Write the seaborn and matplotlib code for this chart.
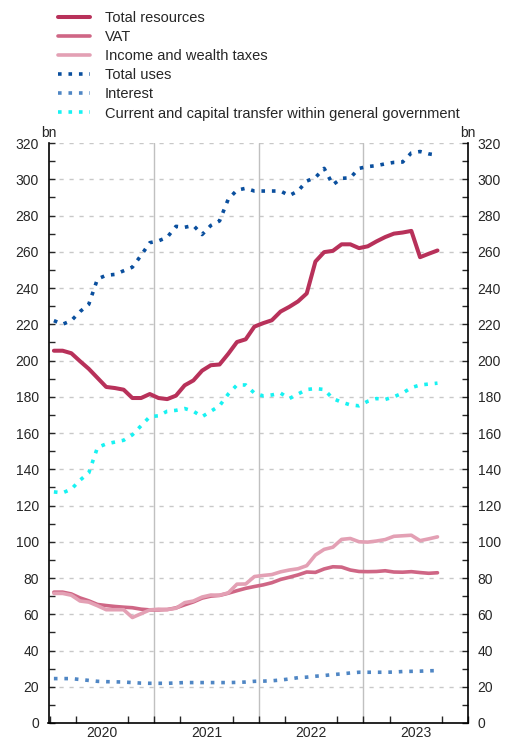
import numpy as np
import pandas as pd
import matplotlib
matplotlib.use("Agg")
import matplotlib.pyplot as plt
import seaborn as sns

# monthly data, Jan 2020 - Sep 2023 (bn)
months = pd.date_range("2020-01-01", periods=45, freq="MS")

total_resources = [205.4, 205.4, 204.0, 199.6, 195.4, 190.4, 185.4, 184.8, 183.9, 179.3,
                   179.3, 181.5, 179.3, 178.7, 180.6, 186.3, 189.0, 194.4, 197.4, 197.8,
                   203.7, 210.2, 211.7, 218.7, 220.6, 222.2, 227.0, 229.6, 232.6, 237.0,
                   254.6, 259.8, 260.5, 264.1, 264.1, 262.0, 263.0, 265.7, 268.1, 270.0,
                   270.6, 271.5, 257.0, 258.9, 260.7]
vat = [72.2, 72.2, 71.2, 69.0, 67.4, 65.4, 64.8, 64.3, 63.9, 63.6,
       62.8, 62.4, 62.4, 62.6, 63.5, 65.2, 66.8, 68.9, 70.0, 70.4,
       71.6, 73.0, 74.3, 75.3, 76.2, 77.4, 79.2, 80.4, 81.7, 83.3,
       83.1, 85.0, 86.2, 86.0, 84.4, 83.6, 83.5, 83.6, 84.0, 83.3,
       83.2, 83.5, 83.0, 82.6, 82.9]
income_wealth = [71.5, 71.5, 70.5, 67.3, 66.7, 64.7, 62.5, 62.5, 62.5, 58.2,
                 60.3, 62.4, 62.8, 62.6, 63.3, 66.4, 67.3, 69.5, 70.6, 70.5,
                 71.8, 76.6, 76.7, 80.8, 81.4, 81.9, 83.4, 84.4, 85.1, 86.8,
                 92.7, 95.8, 97.0, 101.3, 101.8, 100.0, 99.8, 100.4, 101.2, 103.0,
                 103.3, 103.6, 100.6, 101.6, 102.7]
total_uses = [222.0, 220.0, 222.0, 227.0, 231.0, 245.0, 247.0, 247.5, 249.5, 251.5,
              258.0, 265.0, 266.0, 268.0, 274.0, 273.5, 274.5, 269.5, 274.5, 277.0,
              289.0, 294.0, 295.0, 293.5, 293.5, 293.5, 293.5, 291.0, 293.5, 299.0,
              301.0, 306.0, 297.0, 300.5, 300.8, 306.0, 307.0, 307.5, 308.5, 309.3,
              309.5, 314.5, 315.3, 314.0, 313.3]
interest = [24.5, 24.5, 24.5, 24.0, 23.5, 23.0, 22.8, 22.7, 22.6, 22.3,
            22.0, 21.9, 21.9, 21.9, 22.1, 22.3, 22.3, 22.3, 22.3, 22.3,
            22.3, 22.4, 22.6, 23.0, 23.1, 23.3, 23.7, 24.3, 25.0, 25.3,
            25.8, 26.2, 26.7, 27.1, 27.6, 28.0, 28.0, 28.0, 28.0, 28.1,
            28.4, 28.5, 28.6, 28.8, 28.9]
transfers = [127.5, 127.0, 129.0, 134.0, 138.0, 152.0, 154.0, 155.0, 156.0, 159.0,
             164.0, 169.0, 169.5, 172.0, 172.5, 173.5, 172.0, 169.0, 172.0, 175.0,
             181.5, 186.5, 186.5, 182.0, 180.5, 181.0, 182.0, 179.0, 181.5, 184.0,
             184.5, 184.0, 179.0, 177.0, 175.5, 175.0, 177.5, 179.0, 178.5, 180.0,
             182.0, 185.0, 186.5, 187.0, 187.5]

years = [2020, 2021, 2022, 2023]

# x as decimal year, mid-month
x = months.year + (months.month - 0.5) / 12

sns.set_style("white")
plt.rcParams["font.family"] = ["Liberation Sans", "DejaVu Sans"]
plt.rcParams["font.size"] = 10

fig = plt.figure(figsize=(5.07, 7.42), dpi=100)
ax = fig.add_axes([48.5 / 507, 19 / 742, (468 - 48.5) / 507, (723 - 143) / 742])

dots = (0, (1, 1.9))
series = [
    ("Total resources", total_resources, "#b8315a", "-", 2.9),
    ("VAT", vat, "#cf6685", "-", 2.6),
    ("Income and wealth taxes", income_wealth, "#e3a0b4", "-", 2.6),
    ("Total uses", total_uses, "#0a4f9e", dots, 2.6),
    ("Interest", interest, "#4f86c4", dots, 2.6),
    ("Current and capital transfer within general government", transfers, "#17f2f2", dots, 2.6),
]
for name, vals, col, ls, lw in series:
    sns.lineplot(x=x, y=vals, ax=ax, color=col, linestyle=ls, linewidth=lw, label=name)

ax.set_xlim(years[0] - 0.01, years[-1] + 1)
ax.set_ylim(0, 320)

# grid
for yv in range(20, 321, 20):
    ax.axhline(yv, color="#c8c8c8", lw=1, linestyle=(0, (3, 4.2)), zorder=0)
for yr in years[1:]:
    ax.axvline(yr, color="#c0c0c0", lw=1, zorder=0)

# y axis both sides
ax.set_yticks(range(0, 321, 20))
ax.set_yticks(range(0, 321, 10), minor=True)
ax.tick_params(axis="y", which="both", direction="in", length=4, width=1,
               left=True, right=True, labelleft=True, labelright=True, pad=7, labelsize=10)

# x axis: labels mid-year, ticks at quarters
ax.set_xticks([y + 0.5 for y in years])
ax.set_xticklabels([str(y) for y in years])
ax.set_xticks([y + q for y in years + [years[-1] + 1] for q in (0, 0.25, 0.75)
               if y + q <= years[-1] + 1], minor=True)
ax.tick_params(axis="x", which="major", length=0, pad=2.5, labelsize=10)
ax.tick_params(axis="x", which="minor", direction="in", length=5, width=1, bottom=True)

for s in ["left", "right", "bottom"]:
    ax.spines[s].set_visible(True)
    ax.spines[s].set_color("black")
    ax.spines[s].set_linewidth(1.2)
ax.spines["top"].set_visible(False)

ax.set_xlabel("")
ax.set_ylabel("")
ax.annotate("bn", xy=(0, 1), xycoords="axes fraction", xytext=(0, 4.5),
            textcoords="offset points", ha="center", va="baseline", fontsize=10)
ax.annotate("bn", xy=(1, 1), xycoords="axes fraction", xytext=(0, 4.5),
            textcoords="offset points", ha="center", va="baseline", fontsize=10)

handles, labels = ax.get_legend_handles_labels()
ax.get_legend().remove()
fig.legend(handles, labels, loc="upper left", bbox_to_anchor=(58 / 507, 1 - 11 / 742),
           frameon=False, fontsize=10.5, handlelength=2.2, handletextpad=1.0,
           labelspacing=0.35, borderpad=0, borderaxespad=0)

fig.savefig("out.png", dpi=100)
